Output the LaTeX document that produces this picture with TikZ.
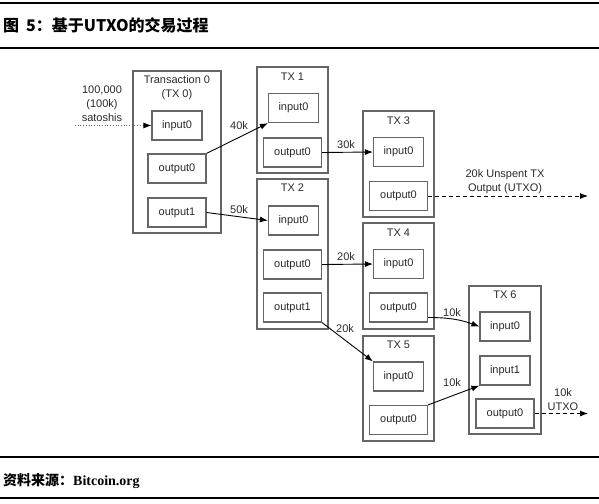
\documentclass[tikz,border=0pt]{standalone}
\usepackage{fontspec}
\setmainfont{Liberation Sans}
\newfontfamily\cjk{Noto Sans CJK SC}
\newfontfamily\serifb{Liberation Serif}
\usetikzlibrary{arrows.meta}
\definecolor{boxgray}{HTML}{666666}
\definecolor{txtgray}{HTML}{2A2A2A}
\begin{document}
\begin{tikzpicture}[x=1pt,y=-1pt,
  txbox/.style={draw=boxgray,line width=1.2pt,inner sep=0pt,minimum width=71pt},
  inbox/.style={draw=boxgray,line width=1.2pt,inner sep=0pt,minimum width=50pt,minimum height=29pt,font=\fontsize{11}{13}\selectfont,text=txtgray},
  outbox/.style={draw=boxgray,line width=1.2pt,inner sep=0pt,minimum width=58pt,minimum height=29pt,font=\fontsize{11}{13}\selectfont,text=txtgray},
  lbl/.style={inner sep=0pt,font=\fontsize{11}{14}\selectfont,text=txtgray,align=center},
  flow/.style={draw=black,line width=0.9pt,-{Latex[length=8pt,width=6pt]}},
  rule/.style={line width=1.3pt,black}]
\useasboundingbox (0,0) rectangle (599,503);
% header and footer
\draw[rule] (0,3) -- (599,3);
\draw[rule] (0,48) -- (599,48);
\draw[rule] (0,457) -- (599,457);
\draw[rule] (0,498) -- (599,498);
\node[anchor=west,inner sep=0pt,font=\cjk\bfseries\fontsize{16}{18}\selectfont] (title) at (3,25) {图\hspace{7pt}5：基于UTXO的交易过程};
\node[anchor=west,inner sep=0pt,font=\cjk\bfseries\fontsize{14}{16}\selectfont] (source) at (3,481) {资料来源：{\serifb\bfseries Bitcoin.org}};

% TX0
\node[txbox,minimum width=88pt,minimum height=162pt] (tx0) at (177,152) {};
\node[lbl] (tx0t) at (177,88) {Transaction 0\\(TX 0)};
\node[inbox] (tx0in) at (177,125.5) {input0};
\node[outbox] (tx0out0) at (177,168.5) {output0};
\node[outbox] (tx0out1) at (177,212.5) {output1};
% TX1
\node[txbox,minimum height=106pt] (tx1) at (292.5,120) {};
\node[lbl] (tx1t) at (292.5,77) {TX 1};
\node[inbox] (tx1in) at (293.5,108) {input0};
\node[outbox] (tx1out0) at (292.5,152.5) {output0};
% TX2
\node[txbox,minimum height=150pt] (tx2) at (292.5,254) {};
\node[lbl] (tx2t) at (292.5,188) {TX 2};
\node[inbox] (tx2in) at (293.5,220.5) {input0};
\node[outbox] (tx2out0) at (292.5,264.5) {output0};
\node[outbox] (tx2out1) at (292.5,307.5) {output1};
% TX3
\node[txbox,minimum height=106pt] (tx3) at (398.5,164) {};
\node[lbl] (tx3t) at (398.5,121) {TX 3};
\node[inbox] (tx3in) at (398.5,152) {input0};
\node[outbox] (tx3out0) at (398.5,196) {output0};
% TX4
\node[txbox,minimum height=106pt] (tx4) at (398.5,276) {};
\node[lbl] (tx4t) at (398.5,233) {TX 4};
\node[inbox] (tx4in) at (398.5,264) {input0};
\node[outbox] (tx4out0) at (398.5,307.5) {output0};
% TX5
\node[txbox,minimum height=105pt] (tx5) at (398.5,388.5) {};
\node[lbl] (tx5t) at (398.5,345) {TX 5};
\node[inbox] (tx5in) at (398.5,376.5) {input0};
\node[outbox] (tx5out0) at (398.5,420) {output0};
% TX6
\node[txbox,minimum width=72pt,minimum height=148pt] (tx6) at (505,360) {};
\node[lbl] (tx6t) at (505,295) {TX 6};
\node[inbox] (tx6in0) at (505,326.5) {input0};
\node[inbox] (tx6in1) at (505,370.5) {input1};
\node[outbox] (tx6out0) at (505,413.5) {output0};

% free ends
\coordinate (src) at (75,125.5);
\coordinate (utxo1) at (588,196);
\coordinate (utxo2) at (588,413.5);

% labels
\node[lbl] (lsat) at (102,104) {100,000\\(100k)\\satoshis};
\node[lbl] (l40) at (239,126) {40k};
\node[lbl] (l50) at (239,210) {50k};
\node[lbl] (l30) at (346,145) {30k};
\node[lbl] (l20a) at (346,257) {20k};
\node[lbl] (l20b) at (345,329) {20k};
\node[lbl] (l10a) at (452,313) {10k};
\node[lbl] (l10b) at (452,383) {10k};
\node[lbl] (lutxo1) at (505,181.5) {20k Unspent TX\\Output (UTXO)};
\node[lbl] (lutxo2) at (563,400) {10k\\UTXO};

% connectors
\draw[draw=boxgray,line width=0.7pt,dotted,-{Latex[length=8pt,width=6pt,color=black,sep=0pt]}] (src) -- (tx0in.west);
\draw[flow] (tx0out0.north east) -- (tx1in.south west);
\draw[flow] (tx0out1.east) -- (tx2in.west);
\draw[flow] (tx1out0.east) -- (tx3in.west);
\draw[flow] (tx2out0.east) -- (tx4in.west);
\draw[flow] (tx2out1.south east) -- (tx5in.north west);
\draw[flow] ([yshift=-10pt]tx4out0.east) to[bend left=10] (tx6in0.west);
\draw[flow] (tx5out0.north east) -- (tx6in1.south west);
\draw[flow,dash pattern=on 4pt off 3pt] (tx3out0.east) -- (utxo1);
\draw[flow,dash pattern=on 4pt off 3pt] (tx6out0.east) -- (utxo2);
\end{tikzpicture}
\end{document}
